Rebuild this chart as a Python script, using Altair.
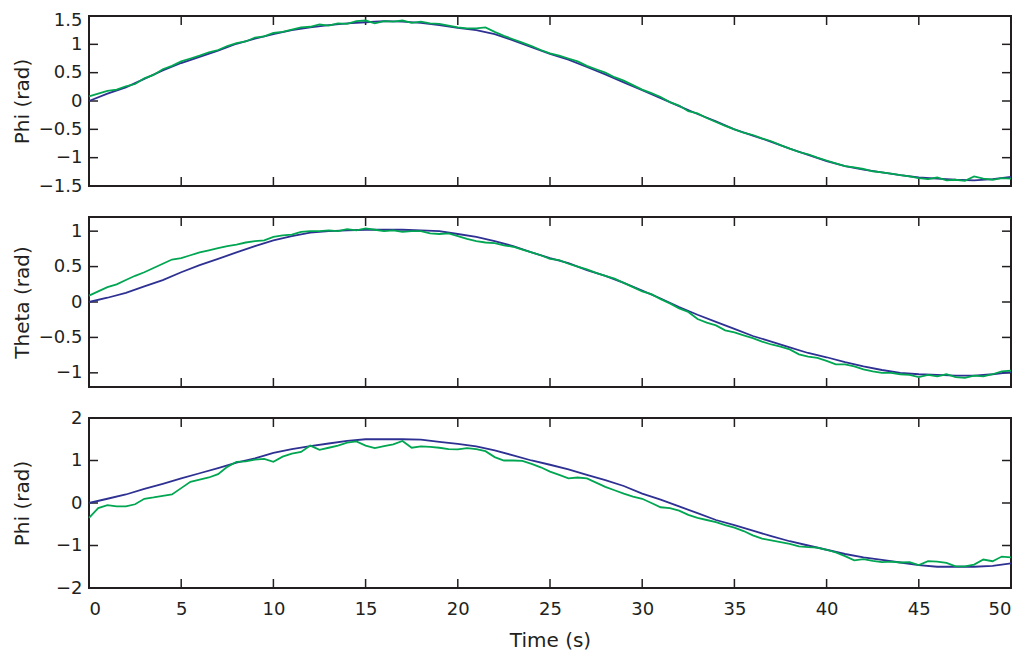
import altair as alt
import pandas as pd

# ---------------- data ----------------
times_ref = list(range(51))                 # reference signal, 1 s samples
times_meas = [k / 2 for k in range(101)]    # measured signal, 0.5 s samples
x_ticks = [0, 5, 10, 15, 20, 25, 30, 35, 40, 45, 50]

phi1_ref = [
    0.00, 0.13, 0.24, 0.39, 0.54, 0.67, 0.78, 0.89, 1.01, 1.10,
    1.18, 1.25, 1.30, 1.34, 1.37, 1.39, 1.41, 1.40, 1.38, 1.34,
    1.29, 1.25, 1.18, 1.07, 0.95, 0.83, 0.73, 0.60, 0.47, 0.33,
    0.19, 0.05, -0.09, -0.23, -0.36, -0.50, -0.61, -0.72, -0.84, -0.95,
    -1.06, -1.15, -1.21, -1.26, -1.31, -1.35, -1.37, -1.39, -1.40, -1.38,
    -1.34,
]
phi1_meas = [
    0.08, 0.13, 0.18, 0.20, 0.26, 0.30, 0.40, 0.46, 0.56, 0.62,
    0.70, 0.75, 0.80, 0.86, 0.90, 0.97, 1.02, 1.05, 1.12, 1.14,
    1.20, 1.22, 1.26, 1.30, 1.31, 1.35, 1.33, 1.37, 1.36, 1.41,
    1.42, 1.37, 1.41, 1.40, 1.42, 1.38, 1.40, 1.37, 1.36, 1.33,
    1.30, 1.28, 1.28, 1.30, 1.22, 1.15, 1.09, 1.03, 0.97, 0.90,
    0.84, 0.80, 0.75, 0.70, 0.62, 0.56, 0.50, 0.42, 0.36, 0.28,
    0.20, 0.14, 0.07, -0.02, -0.08, -0.18, -0.22, -0.30, -0.37, -0.44,
    -0.50, -0.56, -0.60, -0.66, -0.71, -0.78, -0.84, -0.90, -0.94, -1.00,
    -1.05, -1.10, -1.15, -1.17, -1.20, -1.24, -1.26, -1.28, -1.31, -1.33,
    -1.36, -1.38, -1.35, -1.40, -1.39, -1.41, -1.33, -1.37, -1.39, -1.36,
    -1.37,
]

theta_ref = [
    0.00, 0.06, 0.13, 0.22, 0.31, 0.42, 0.52, 0.61, 0.70, 0.79,
    0.87, 0.93, 0.98, 1.00, 1.01, 1.02, 1.02, 1.02, 1.01, 1.00,
    0.96, 0.92, 0.86, 0.79, 0.70, 0.62, 0.55, 0.45, 0.37, 0.27,
    0.16, 0.05, -0.07, -0.18, -0.28, -0.38, -0.48, -0.56, -0.64, -0.72,
    -0.78, -0.85, -0.91, -0.96, -1.00, -1.02, -1.03, -1.04, -1.04, -1.02,
    -0.99,
]
theta_meas = [
    0.09, 0.15, 0.21, 0.25, 0.31, 0.37, 0.42, 0.48, 0.54, 0.60,
    0.62, 0.66, 0.70, 0.73, 0.76, 0.79, 0.81, 0.84, 0.86, 0.87,
    0.92, 0.94, 0.95, 0.99, 1.00, 1.00, 1.01, 1.00, 1.03, 1.01,
    1.04, 1.02, 1.00, 1.01, 0.99, 1.00, 1.00, 0.97, 0.96, 0.97,
    0.93, 0.89, 0.86, 0.84, 0.83, 0.80, 0.78, 0.74, 0.70, 0.66,
    0.61, 0.59, 0.54, 0.50, 0.46, 0.41, 0.37, 0.33, 0.27, 0.21,
    0.15, 0.11, 0.04, -0.02, -0.09, -0.14, -0.24, -0.29, -0.33, -0.40,
    -0.43, -0.47, -0.51, -0.56, -0.60, -0.63, -0.67, -0.74, -0.77, -0.79,
    -0.83, -0.88, -0.88, -0.91, -0.95, -0.98, -1.00, -1.00, -1.02, -1.03,
    -1.06, -1.03, -1.05, -1.02, -1.06, -1.07, -1.04, -1.05, -1.02, -0.98,
    -0.97,
]

phi3_ref = [
    0.00, 0.10, 0.20, 0.33, 0.45, 0.58, 0.70, 0.82, 0.95, 1.05,
    1.18, 1.27, 1.34, 1.40, 1.46, 1.50, 1.50, 1.50, 1.49, 1.44,
    1.39, 1.33, 1.24, 1.12, 1.00, 0.90, 0.79, 0.66, 0.54, 0.40,
    0.22, 0.08, -0.08, -0.24, -0.40, -0.52, -0.65, -0.78, -0.90, -1.00,
    -1.10, -1.20, -1.28, -1.34, -1.40, -1.46, -1.50, -1.50, -1.50, -1.48,
    -1.42,
]
phi3_meas = [
    -0.35, -0.12, -0.05, -0.08, -0.08, -0.03, 0.10, 0.13, 0.17, 0.20,
    0.35, 0.50, 0.55, 0.60, 0.68, 0.85, 0.97, 0.98, 1.02, 1.04,
    0.97, 1.09, 1.16, 1.20, 1.35, 1.25, 1.30, 1.35, 1.42, 1.45,
    1.35, 1.29, 1.34, 1.38, 1.46, 1.30, 1.33, 1.32, 1.30, 1.27,
    1.26, 1.29, 1.27, 1.22, 1.08, 1.00, 1.00, 0.99, 0.92, 0.84,
    0.74, 0.66, 0.58, 0.60, 0.58, 0.48, 0.38, 0.30, 0.22, 0.15,
    0.10, 0.00, -0.10, -0.12, -0.18, -0.28, -0.35, -0.40, -0.45, -0.52,
    -0.58, -0.66, -0.76, -0.84, -0.88, -0.92, -0.96, -1.02, -1.04, -1.05,
    -1.10, -1.16, -1.25, -1.35, -1.32, -1.36, -1.39, -1.38, -1.40, -1.39,
    -1.46, -1.37, -1.38, -1.41, -1.49, -1.49, -1.45, -1.33, -1.37, -1.26,
    -1.28,
]

y1_ticks = [-1.5, -1.0, -0.5, 0.0, 0.5, 1.0, 1.5]
y2_ticks = [-1.0, -0.5, 0.0, 0.5, 1.0]
y3_ticks = [-2, -1, 0, 1, 2]

# ---------------- style ----------------
BLUE = "#2E3192"
GREEN = "#00A651"
INK = "#231F20"
FONT = "DejaVu Sans"
W, H = 922, 170
TICK = 9


def panel(ref, meas, ydom, yticks, ytitle, bottom, top_label_shift=0):
    d_ref = pd.DataFrame({"t": times_ref, "v": ref})
    d_meas = pd.DataFrame({"t": times_meas, "v": meas})
    d_yt = pd.DataFrame({"v": yticks})
    d_xt = pd.DataFrame({"t": x_ticks})

    if bottom:
        xaxis = alt.Axis(values=x_ticks, title="Time (s)", ticks=False, tickSize=0,
                         domain=False, grid=False, labelPadding=12, titlePadding=12,
                         format="d")
    else:
        xaxis = None
    X = alt.X("t:Q", scale=alt.Scale(domain=[0, 50], nice=False, zero=False), axis=xaxis)
    top_val = max(yticks)
    Y = alt.Y("v:Q", scale=alt.Scale(domain=ydom, nice=False, zero=False),
              axis=alt.Axis(values=yticks, format=".1~f", title=ytitle, ticks=False,
                            tickSize=0, domain=False, grid=False, labelPadding=7,
                            labelOffset={"condition": {"test": f"datum.value == {top_val}",
                                                       "value": top_label_shift},
                                         "value": 0},
                            titleX=-57, titleY=H / 2, titleAlign="center",
                            titleBaseline="bottom", titleAngle=270))

    rule = dict(color=INK, strokeWidth=1.5)
    yl = alt.Chart(d_yt).mark_rule(**rule).encode(y=Y, x=alt.value(0), x2=alt.value(TICK))
    yr = alt.Chart(d_yt).mark_rule(**rule).encode(y=Y, x=alt.value(W - TICK), x2=alt.value(W))
    xt = alt.Chart(d_xt).mark_rule(**rule).encode(x=X, y=alt.value(0), y2=alt.value(TICK))
    xb = alt.Chart(d_xt).mark_rule(**rule).encode(x=X, y=alt.value(H - TICK), y2=alt.value(H))
    blue = alt.Chart(d_ref).mark_line(color=BLUE, strokeWidth=1.8).encode(x=X, y=Y)
    green = alt.Chart(d_meas).mark_line(color=GREEN, strokeWidth=1.8).encode(x=X, y=Y)
    return alt.layer(yl, yr, xt, xb, blue, green).properties(width=W, height=H)


p1 = panel(phi1_ref, phi1_meas, [-1.5, 1.5], y1_ticks, "Phi (rad)", False, 4)
p2 = panel(theta_ref, theta_meas, [-1.2, 1.2], y2_ticks, "Theta (rad)", False)
p3 = panel(phi3_ref, phi3_meas, [-2, 2], y3_ticks, "Phi (rad)", True)

chart = (
    alt.vconcat(p1, p2, p3, spacing=31, bounds="flush")
    .properties(padding={"left": 3, "top": 2, "right": 5, "bottom": 0},
                background="white")
    .configure_view(stroke=INK, strokeWidth=2)
    .configure_axis(labelFont=FONT, titleFont=FONT, labelFontSize=18, titleFontSize=20,
                    labelColor=INK, titleColor=INK, titleFontWeight="normal")
)

chart.save("out.html", embed_options={"renderer": "svg", "actions": False})
